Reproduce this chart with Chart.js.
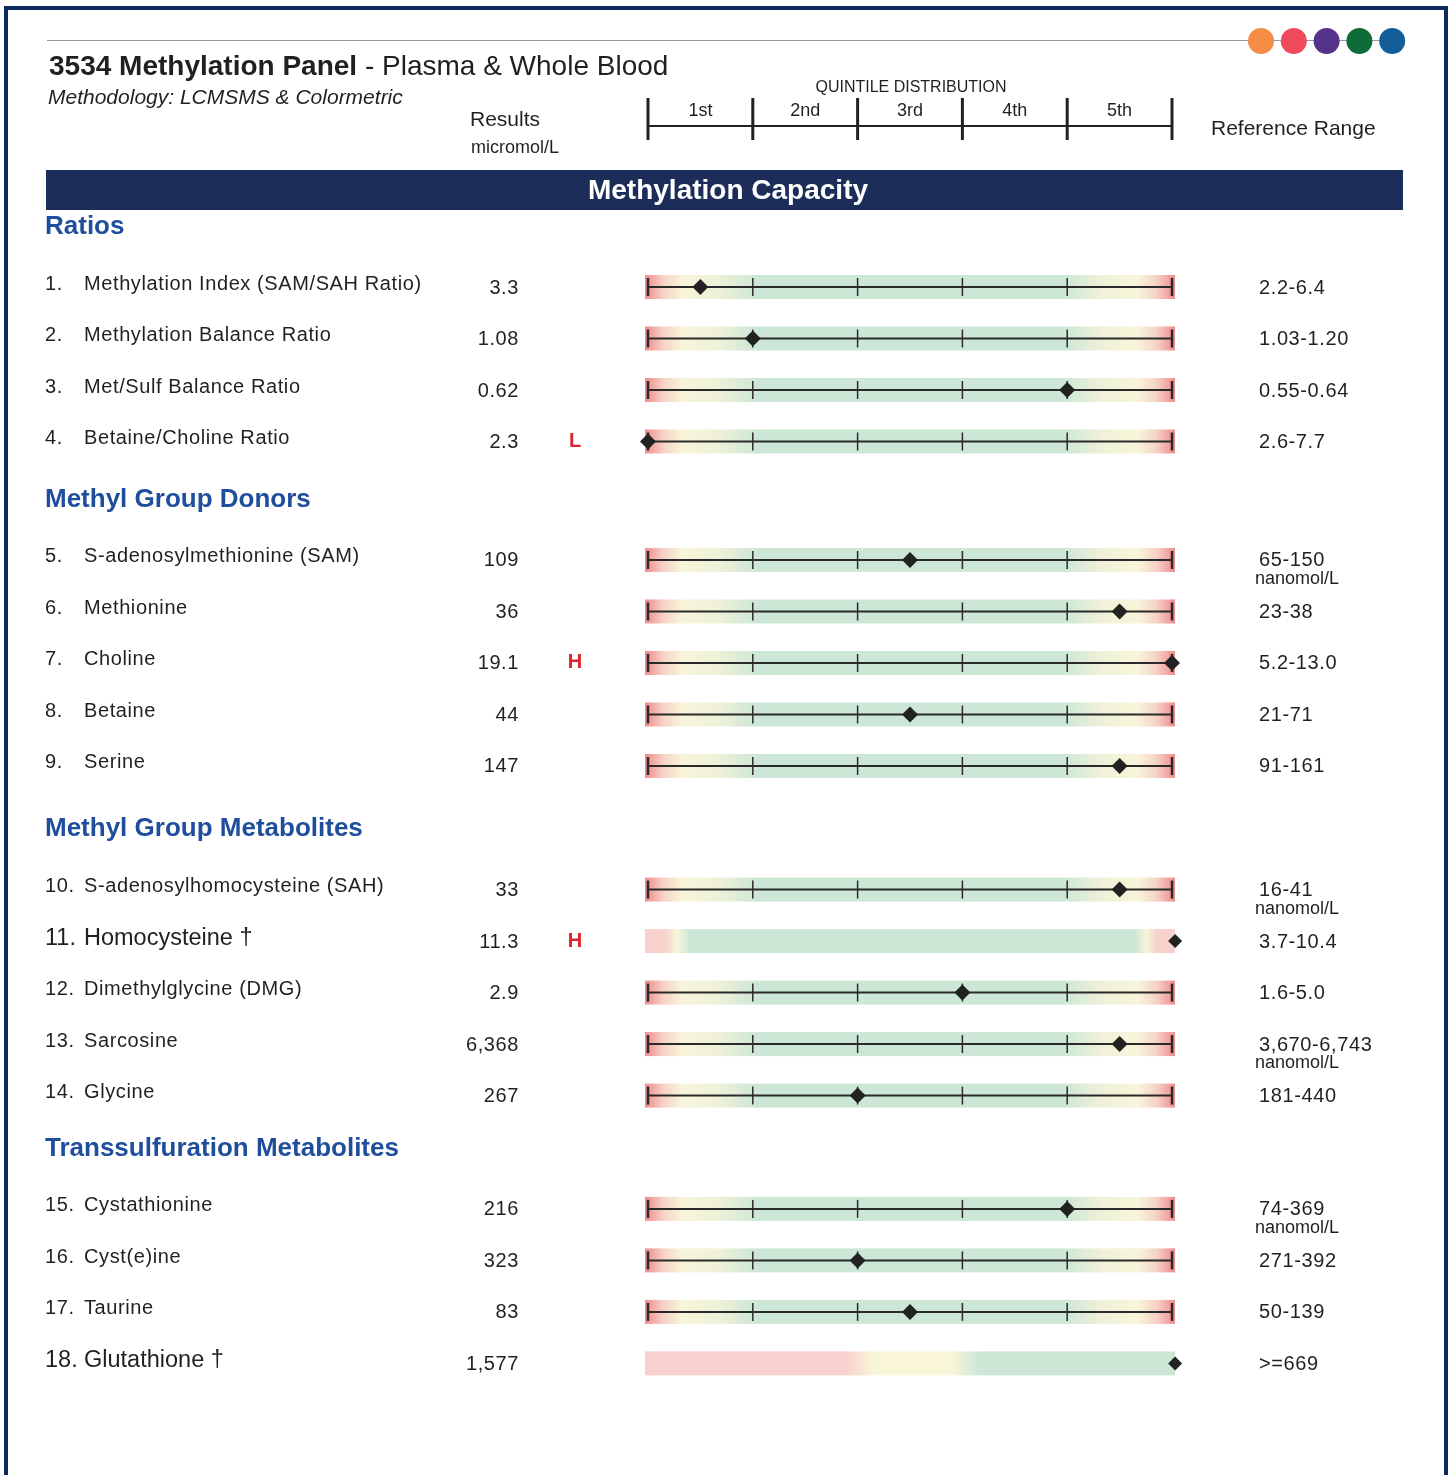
<!DOCTYPE html>
<html>
<head>
<meta charset="utf-8">
<title>3534 Methylation Panel</title>
<script src="https://cdn.jsdelivr.net/npm/chart.js@4.4.1/dist/chart.umd.min.js"></script>
<style>
  html, body { margin: 0; padding: 0; background: #fff; }
  #panel { display: block; }
</style>
</head>
<body>
<canvas id="panel" width="1452" height="1475"></canvas>
<script>
// Row data
const sections = ['Ratios', 'Methyl Group Donors', 'Methyl Group Metabolites', 'Transsulfuration Metabolites'];
const sectionOf = [0, 0, 0, 0, 1, 1, 1, 1, 1, 2, 2, 2, 2, 2, 3, 3, 3, 3];
const analytes = [
  'Methylation Index (SAM/SAH Ratio)', 'Methylation Balance Ratio', 'Met/Sulf Balance Ratio', 'Betaine/Choline Ratio',
  'S-adenosylmethionine (SAM)', 'Methionine', 'Choline', 'Betaine', 'Serine',
  'S-adenosylhomocysteine (SAH)', 'Homocysteine \u2020', 'Dimethylglycine (DMG)', 'Sarcosine', 'Glycine',
  'Cystathionine', 'Cyst(e)ine', 'Taurine', 'Glutathione \u2020'
];
const results = ['3.3', '1.08', '0.62', '2.3', '109', '36', '19.1', '44', '147',
  '33', '11.3', '2.9', '6,368', '267', '216', '323', '83', '1,577'];
const flags = ['', '', '', 'L', '', '', 'H', '', '', '', 'H', '', '', '', '', '', '', ''];
const refRanges = ['2.2-6.4', '1.03-1.20', '0.55-0.64', '2.6-7.7', '65-150', '23-38', '5.2-13.0', '21-71', '91-161',
  '16-41', '3.7-10.4', '1.6-5.0', '3,670-6,743', '181-440', '74-369', '271-392', '50-139', '>=669'];
const refUnits = ['', '', '', '', 'nanomol/L', '', '', '', '', 'nanomol/L', '', '', 'nanomol/L', '', 'nanomol/L', '', '', ''];
// position of the result on the quintile scale (0 = low end, 5 = high end)
const quintilePos = [0.5, 1.0, 4.0, 0.0, 2.5, 4.5, 5.0, 2.5, 4.5, 4.5, 5.03, 3.0, 4.5, 2.0, 4.0, 2.0, 2.5, 5.03];
const rangeType = ['q', 'q', 'q', 'q', 'q', 'q', 'q', 'q', 'q', 'q', 'range', 'q', 'q', 'q', 'q', 'q', 'q', 'min'];
const quintileLabels = ['1st', '2nd', '3rd', '4th', '5th'];
const dotColors = ['#f58c45', '#ef4b5c', '#55328b', '#0e6b3a', '#135e99'];

// vertical slot of each row, with extra space before every new section
const sectionShift = [0, 1.3, 2.7, 3.9];
const slots = analytes.map((_, i) => i + sectionShift[sectionOf[i]]);

const FONT = '"Liberation Sans", Arial, Helvetica, sans-serif';
const INK = '#231f20';
const NAVY = '#1c2d5a';

const bandStops = {
  q: [[0, '#f08a8a'], [0.035, '#f6d2c8'], [0.07, '#f8f5d9'], [0.14, '#eef1d8'], [0.21, '#cde7d7'],
      [0.79, '#cde7d7'], [0.86, '#eef1d8'], [0.93, '#f8f5d9'], [0.965, '#f6d2c8'], [1, '#f08a8a']],
  range: [[0, '#f7cfcd'], [0.04, '#f7d3cd'], [0.06, '#f8f5d9'], [0.085, '#cde7d7'],
          [0.925, '#cde7d7'], [0.945, '#f8f5d9'], [0.965, '#f7d3cd'], [1, '#f7cfcd']],
  min: [[0, '#f8d0ce'], [0.38, '#f8d0ce'], [0.43, '#f8f5d9'], [0.58, '#f8f5d9'], [0.63, '#cde7d7'], [1, '#cde7d7']]
};

function text(ctx, str, x, y, font, color, align, spacing) {
  ctx.font = font;
  ctx.fillStyle = color;
  ctx.textAlign = align || 'left';
  ctx.textBaseline = 'middle';
  ctx.letterSpacing = (spacing || 0) + 'px';
  ctx.fillText(str, x, y);
  ctx.letterSpacing = '0px';
}

const panelPlugin = {
  id: 'panel',
  beforeDatasetsDraw(chart) {
    const { ctx, scales: { x, y } } = chart;
    ctx.save();
    const x0 = x.getPixelForValue(0);
    const x5 = x.getPixelForValue(5);
    slots.forEach((s, i) => {
      const cy = y.getPixelForValue(s);
      const g = ctx.createLinearGradient(x0 - 3, 0, x5 + 3, 0);
      bandStops[rangeType[i]].forEach(([o, c]) => g.addColorStop(o, c));
      ctx.fillStyle = g;
      ctx.fillRect(x0 - 3, cy - 12, x5 - x0 + 6, 24);
      if (rangeType[i] !== 'q') return;
      ctx.strokeStyle = '#2a2a2a';
      ctx.lineWidth = 2;
      ctx.beginPath();
      ctx.moveTo(x0, cy);
      ctx.lineTo(x5, cy);
      ctx.stroke();
      for (let k = 0; k <= 5; k++) {
        const tx = x.getPixelForValue(k);
        ctx.lineWidth = (k === 0 || k === 5) ? 2.5 : 1.5;
        ctx.beginPath();
        ctx.moveTo(tx, cy - 9);
        ctx.lineTo(tx, cy + 9);
        ctx.stroke();
      }
    });
    ctx.restore();
  },
  afterDraw(chart) {
    const { ctx, scales: { x, y } } = chart;
    ctx.save();

    // frame
    ctx.fillStyle = '#0e2a5c';
    ctx.fillRect(4, 6, 1444, 4);
    ctx.fillRect(4, 6, 4, 1469);
    ctx.fillRect(1444, 6, 4, 1469);

    // top rule and coloured dots
    ctx.strokeStyle = '#9a9a9a';
    ctx.lineWidth = 1;
    ctx.beginPath();
    ctx.moveTo(47, 40.5);
    ctx.lineTo(1390, 40.5);
    ctx.stroke();
    dotColors.forEach((c, k) => {
      ctx.fillStyle = c;
      ctx.beginPath();
      ctx.arc(1261 + k * 32.8, 41, 13, 0, Math.PI * 2);
      ctx.fill();
    });

    // title
    text(ctx, '3534 Methylation Panel', 49, 67, 'bold 28px ' + FONT, INK);
    ctx.font = 'bold 28px ' + FONT;
    const tw = ctx.measureText('3534 Methylation Panel').width;
    text(ctx, ' - Plasma & Whole Blood', 49 + tw, 67, '28px ' + FONT, INK);
    text(ctx, 'Methodology: LCMSMS & Colormetric', 48, 98, 'italic 21px ' + FONT, INK);
    text(ctx, 'Results', 470, 120, '21px ' + FONT, INK);
    text(ctx, 'micromol/L', 471, 148, '18px ' + FONT, INK);
    text(ctx, 'Reference Range', 1211, 129, '21px ' + FONT, INK);
    text(ctx, 'QUINTILE DISTRIBUTION', 911, 88, '16px ' + FONT, INK, 'center');

    // quintile header scale
    const hx0 = x.getPixelForValue(0), hx5 = x.getPixelForValue(5);
    ctx.strokeStyle = '#222';
    ctx.lineWidth = 2;
    ctx.beginPath();
    ctx.moveTo(hx0, 126);
    ctx.lineTo(hx5, 126);
    ctx.stroke();
    ctx.lineWidth = 3;
    for (let k = 0; k <= 5; k++) {
      const tx = x.getPixelForValue(k);
      ctx.beginPath();
      ctx.moveTo(tx, 98);
      ctx.lineTo(tx, 140);
      ctx.stroke();
    }
    quintileLabels.forEach((l, k) => {
      text(ctx, l, x.getPixelForValue(k + 0.5), 111, '18px ' + FONT, INK, 'center');
    });

    // section banner
    ctx.fillStyle = NAVY;
    ctx.fillRect(46, 170, 1357, 40);
    text(ctx, 'Methylation Capacity', 728, 191, 'bold 28px ' + FONT, '#ffffff', 'center');

    // section headers
    sections.forEach((name, s) => {
      const first = sectionOf.indexOf(s);
      const hy = y.getPixelForValue(slots[first] - 1.17);
      text(ctx, name, 45, hy, 'bold 26px ' + FONT, '#1f4e9c');
    });

    // row texts
    slots.forEach((s, i) => {
      const cy = y.getPixelForValue(s);
      const big = rangeType[i] !== 'q';
      const lf = big ? '23.5px ' + FONT : '20px ' + FONT;
      const sp = big ? 0 : 0.6;
      text(ctx, (i + 1) + '.', 45, cy - 3, lf, INK, 'left', sp);
      text(ctx, analytes[i], 84, cy - 3, lf, INK, 'left', sp);
      text(ctx, results[i], 519, cy + 1, '20px ' + FONT, INK, 'right', 0.6);
      if (flags[i]) text(ctx, flags[i], 575, cy, 'bold 20px ' + FONT, '#d7262c', 'center');
      text(ctx, refRanges[i], 1259, cy + 1, '20px ' + FONT, INK, 'left', 0.6);
      if (refUnits[i]) text(ctx, refUnits[i], 1255, cy + 19, '18px ' + FONT, INK);
    });
    ctx.restore();
  }
};

new Chart(document.getElementById('panel'), {
  type: 'scatter',
  data: {
    datasets: [{
      label: 'Result',
      data: quintilePos.map((v, i) => ({ x: v, y: slots[i] })),
      pointStyle: 'rectRot',
      pointRadius: quintilePos.map((_, i) => rangeType[i] === 'q' ? 8 : 7),
      pointBackgroundColor: '#222',
      pointBorderWidth: 0,
      clip: false
    }]
  },
  options: {
    responsive: false,
    animation: false,
    layout: { padding: { left: 648, right: 280, top: 287, bottom: 111.6 } },
    scales: {
      x: { type: 'linear', min: 0, max: 5, display: false },
      y: { type: 'linear', min: 0, max: 20.9, reverse: true, display: false }
    },
    plugins: { legend: { display: false }, tooltip: { enabled: false } }
  },
  plugins: [panelPlugin]
});
</script>
</body>
</html>
